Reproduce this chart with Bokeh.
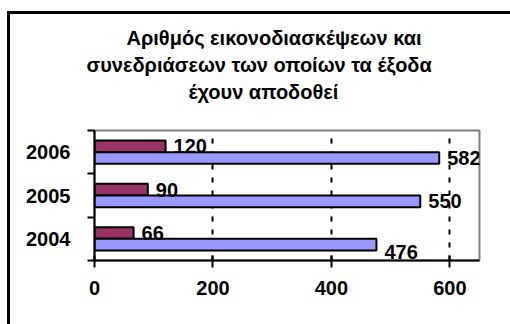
from bokeh.plotting import figure
from bokeh.layouts import column
from bokeh.models import ColumnDataSource, FixedTicker, Range1d, Title
from bokeh.core.properties import value
from bokeh.transform import dodge
from bokeh.embed import file_html
from bokeh.resources import INLINE

# ---- data ----
years = ["2004", "2005", "2006"]
conferences = [476, 550, 582]      # blue series
expenses_paid = [66, 90, 120]      # maroon series
x_ticks = [0, 200, 400, 600]
title_lines = [
    "Αριθμός εικονοδιασκέψεων και",
    "συνεδριάσεων των οποίων τα έξοδα",
    "έχουν αποδοθεί",
]

# ---- styling / layout ----
FONT = "Liberation Sans"
BAR_H = 0.27
MAROON = "#993366"
LAVENDER = "#9999FF"
blue_label_shift = [7, 0, 0]       # pixel nudge of the blue value labels
title_offsets = [32, -8, 94]       # left offset of each title line from the plot edge

centers = [i + 0.5 for i in range(len(years))]
src = ColumnDataSource(dict(
    c=centers,
    total=conferences,
    paid=expenses_paid,
    total_lbl=[str(v) for v in conferences],
    paid_lbl=[str(v) for v in expenses_paid],
    total_dy=blue_label_shift,
))

p = figure(width=500, height=310,
           x_range=Range1d(0, 650), y_range=Range1d(0, len(years)),
           output_backend="svg", toolbar_location=None,
           min_border_left=84, min_border_right=31,
           min_border_top=116, min_border_bottom=64,
           background_fill_color="white", border_fill_color="white")
p.title = None

# plot-area frame: grey on top/right, axes cover left/bottom
p.outline_line_color = "#808080"
p.outline_line_width = 2

# title lines stacked upward from the plot; a blank line gives the gap
title_style = dict(text_font=FONT, text_font_style="bold",
                   text_font_size="20px", text_color="black")
p.add_layout(Title(text=" ", standoff=2, **title_style), "above")
for line, off in reversed(list(zip(title_lines, title_offsets))):
    p.add_layout(Title(text=line, align="left", offset=off, standoff=3,
                       **title_style), "above")

# bars
p.hbar(y=dodge("c", BAR_H / 2, range=p.y_range), height=BAR_H, left=0, right="paid",
       source=src, fill_color=MAROON, line_color="black", line_width=2)
p.hbar(y=dodge("c", -BAR_H / 2, range=p.y_range), height=BAR_H, left=0, right="total",
       source=src, fill_color=LAVENDER, line_color="black", line_width=2)

# value labels
lbl = dict(text_font=value(FONT), text_font_style="bold", text_font_size="20px",
           text_color="black", text_baseline="middle", text_align="left", x_offset=8)
p.text(x="paid", y=dodge("c", BAR_H / 2, range=p.y_range), text="paid_lbl",
       source=src, **lbl)
p.text(x="total", y=dodge("c", -BAR_H / 2, range=p.y_range), text="total_lbl",
       y_offset="total_dy", source=src, **lbl)

# x axis
xa = p.xaxis[0]
xa.ticker = FixedTicker(ticks=x_ticks)
xa.axis_line_width = 2
xa.axis_line_color = "black"
xa.major_tick_in = 5
xa.major_tick_out = 7
xa.major_tick_line_width = 2
xa.minor_tick_line_color = None
xa.major_label_standoff = 13
xa.major_label_text_font = FONT
xa.major_label_text_font_style = "bold"
xa.major_label_text_font_size = "20px"
xa.major_label_text_color = "black"

# y axis: labels centred on categories, ticks on category boundaries
ya = p.yaxis[0]
ya.ticker = FixedTicker(ticks=centers, minor_ticks=list(range(len(years) + 1)))
ya.major_label_overrides = {c: y for c, y in zip(centers, years)}
ya.axis_line_width = 2
ya.axis_line_color = "black"
ya.major_tick_line_color = None
ya.major_tick_in = 0
ya.major_tick_out = 0
ya.minor_tick_in = 0
ya.minor_tick_out = 7
ya.minor_tick_line_width = 2
ya.minor_tick_line_color = "black"
ya.major_label_standoff = 17
ya.major_label_text_font = FONT
ya.major_label_text_font_style = "bold"
ya.major_label_text_font_size = "20px"
ya.major_label_text_color = "black"

# grid: dashed vertical lines only
p.ygrid.grid_line_color = None
p.xgrid.ticker = FixedTicker(ticks=x_ticks[1:])
p.xgrid.grid_line_color = "black"
p.xgrid.grid_line_width = 2
p.xgrid.grid_line_dash = "5 8"

# chart-area border (top and left edges fall inside the page)
chart = column(p, margin=(11, 0, 0, 7),
               styles={"border-top": "3px solid black",
                       "border-left": "3px solid black",
                       "background-color": "white"})

open("out.html", "w").write(file_html(chart, INLINE))
